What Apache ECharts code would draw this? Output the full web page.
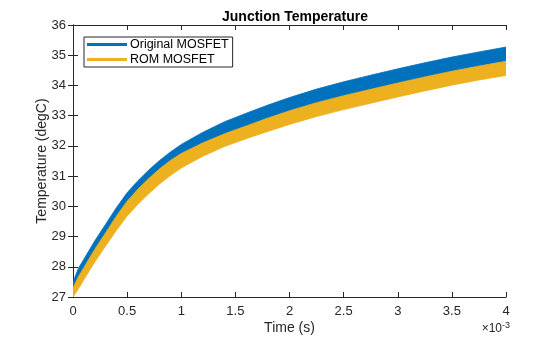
<!DOCTYPE html>
<html>
<head>
<meta charset="utf-8">
<script src="https://cdn.jsdelivr.net/npm/echarts@6/dist/echarts.min.js"></script>
<style>html,body{margin:0;padding:0;background:#fff}#c{width:560px;height:337px}</style>
</head>
<body>
<div id="c"></div>
<script>
// time in ms (axis shows ×10^-3 s)
const timeMs   = [0, 0.05, 0.1, 0.2, 0.3, 0.4, 0.5, 0.6, 0.7, 0.8, 0.9, 1.0, 1.2, 1.4, 1.6, 1.8, 2.0, 2.25, 2.5, 2.75, 3.0, 3.25, 3.5, 3.75, 4.0];
// Original MOSFET band (upper / lower envelope of the oscillating trace)
const origTop  = [27.5, 27.95, 28.25, 28.85, 29.4, 29.95, 30.45, 30.85, 31.2, 31.52, 31.8, 32.05, 32.45, 32.8, 33.08, 33.35, 33.6, 33.88, 34.12, 34.34, 34.55, 34.75, 34.94, 35.11, 35.27];
const origBot  = [27.0, 27.45, 27.75, 28.35, 28.9, 29.45, 29.95, 30.35, 30.7, 31.02, 31.3, 31.55, 31.95, 32.3, 32.58, 32.85, 33.1, 33.38, 33.62, 33.84, 34.05, 34.25, 34.44, 34.61, 34.77];
// ROM MOSFET band
const romTop   = [27.3, 27.67, 27.97, 28.57, 29.12, 29.67, 30.17, 30.57, 30.92, 31.24, 31.52, 31.75, 32.1, 32.4, 32.66, 32.92, 33.16, 33.43, 33.66, 33.87, 34.08, 34.28, 34.47, 34.64, 34.8];
const romBot   = [27.0, 27.27, 27.57, 28.15, 28.68, 29.2, 29.68, 30.07, 30.42, 30.74, 31.02, 31.27, 31.66, 31.98, 32.24, 32.48, 32.71, 32.97, 33.2, 33.41, 33.62, 33.82, 34.01, 34.18, 34.33];
const xTicks = ['0', '0.5', '1', '1.5', '2', '2.5', '3', '3.5', '4'];
const seriesNames = ['Original MOSFET', 'ROM MOSFET'];
const colors = ['#0072BD', '#EDB120'];

const font = 'Liberation Sans, Arial, Helvetica, sans-serif';
const axisCol = '#262626';

function band(name, top, bot, color) {
  const data = timeMs.map((t, i) => [t, top[i], bot[i]]);
  return {
    name: name, type: 'custom', coordinateSystem: 'cartesian2d',
    itemStyle: { color: color },
    encode: { x: 0, y: [1, 2] },
    data: data,
    renderItem: function (params, api) {
      if (params.dataIndex !== 0) return null;
      const pts = [];
      for (let i = 0; i < data.length; i++) pts.push(api.coord([data[i][0], data[i][1]]));
      for (let i = data.length - 1; i >= 0; i--) pts.push(api.coord([data[i][0], data[i][2]]));
      const cs = params.coordSys;
      return {
        type: 'polygon',
        shape: { points: pts },
        clipPath: { type: 'rect', shape: { x: cs.x, y: cs.y, width: cs.width, height: cs.height } },
        style: { fill: color, stroke: color, lineWidth: 0.8 }
      };
    },
    z: 2
  };
}

const chart = echarts.init(document.getElementById('c'), null, { renderer: 'canvas' });
const xBase = { type: 'value', min: 0, max: 4, interval: 0.5 };
const yBase = { type: 'value', min: 27, max: 36, interval: 1 };
chart.setOption({
  animation: false,
  backgroundColor: '#fff',
  textStyle: { fontFamily: font },
  title: { text: 'Junction Temperature', left: 290, textAlign: 'center', top: 5,
    textStyle: { fontFamily: font, fontSize: 14, fontWeight: 'bold', color: '#000' } },
  grid: { left: 73, right: 54, top: 25, bottom: 40, containLabel: false, outerBoundsMode: 'none' },
  legend: {
    orient: 'vertical', left: 84, top: 37, itemWidth: 40, itemHeight: 3, itemGap: 2,
    padding: [1, 4, 1, 3], borderColor: axisCol, borderWidth: 1, backgroundColor: '#fff',
    textStyle: { fontFamily: font, fontSize: 12.5, color: '#000', padding: [0, 0, 0, -2] },
    data: [
      { name: seriesNames[0], icon: 'rect', itemStyle: { color: colors[0] } },
      { name: seriesNames[1], icon: 'rect', itemStyle: { color: colors[1] } }
    ]
  },
  xAxis: [
    Object.assign({}, xBase, {
      position: 'bottom', name: 'Time (s)', nameLocation: 'middle', nameGap: 24, nameMoveOverlap: false,
      nameTextStyle: { fontFamily: font, fontSize: 14, color: axisCol },
      axisLine: { lineStyle: { color: axisCol, width: 1 } },
      axisTick: { inside: true, length: 5, lineStyle: { color: axisCol } },
      axisLabel: { fontFamily: font, fontSize: 13, color: axisCol, margin: 8,
        formatter: (v) => xTicks[Math.round(v / 0.5)] },
      splitLine: { show: false }
    }),
    Object.assign({}, xBase, {
      position: 'top',
      axisLine: { lineStyle: { color: axisCol, width: 1 } },
      axisTick: { inside: true, length: 5, lineStyle: { color: axisCol } },
      axisLabel: { show: false }, splitLine: { show: false }
    })
  ],
  yAxis: [
    Object.assign({}, yBase, {
      position: 'left', name: 'Temperature (degC)', nameLocation: 'middle', nameGap: 24, nameMoveOverlap: false,
      nameTextStyle: { fontFamily: font, fontSize: 14, color: axisCol },
      axisLine: { show: true, lineStyle: { color: axisCol, width: 1 } },
      axisTick: { show: true, inside: true, length: 5, lineStyle: { color: axisCol } },
      axisLabel: { fontFamily: font, fontSize: 13, color: axisCol, margin: 7 },
      splitLine: { show: false }
    }),
    Object.assign({}, yBase, {
      position: 'right',
      axisLine: { show: true, lineStyle: { color: axisCol, width: 1 } },
      axisTick: { show: true, inside: true, length: 5, lineStyle: { color: axisCol } },
      axisLabel: { show: false }, splitLine: { show: false }
    })
  ],
  graphic: [{
    type: 'text', right: 50, top: 321,
    style: {
      text: '×10{sup|-3}', font: '12px ' + font, fill: axisCol,
      rich: { sup: { fontSize: 9, verticalAlign: 'top', padding: [0, 0, 6, 0], fontFamily: font } }
    }
  }],
  series: [
    band(seriesNames[0], origTop, origBot, colors[0]),
    band(seriesNames[1], romTop, romBot, colors[1])
  ]
});
</script>
</body>
</html>
